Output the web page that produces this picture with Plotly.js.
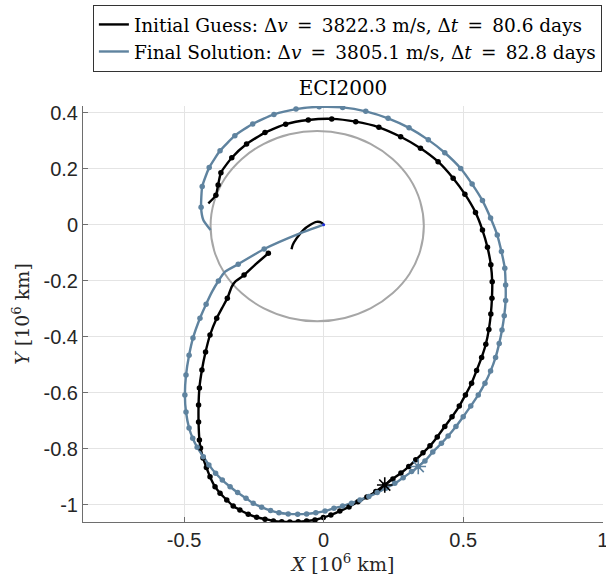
<!DOCTYPE html>
<html>
<head>
<meta charset="utf-8">
<script src="https://cdn.plot.ly/plotly-3.0.1.min.js"></script>
<style>html,body{margin:0;padding:0;background:#fff;}#chart{width:606px;height:581px;}</style>
</head>
<body>
<div id="chart"></div>
<script>
// ---- Data (10^6 km) ----
var xTickVals = [-0.5, 0, 0.5, 1];
var xTickText = ['-0.5', '0', '0.5', '1'];
var yTickVals = [0.4, 0.2, 0, -0.2, -0.4, -0.6, -0.8, -1];
var yTickText = ['0.4', '0.2', '0', '-0.2', '-0.4', '-0.6', '-0.8', '-1'];

var legendInitial = 'Initial Guess: Δ<i>v</i>\u2002=\u20023822.3 m/s, Δ<i>t</i>\u2002=\u200280.6 days';
var legendFinal = 'Final Solution: Δ<i>v</i>\u2002=\u20023805.1 m/s, Δ<i>t</i>\u2002=\u200282.8 days';

// Moon orbit (gray)
var moonX = [0.359, 0.346, 0.308, 0.247, 0.168, 0.076, -0.023, -0.122, -0.214, -0.293, -0.354, -0.392, -0.405,
             -0.392, -0.354, -0.293, -0.214, -0.122, -0.023, 0.076, 0.168, 0.247, 0.308, 0.346, 0.359];
var moonY = [-0.005, 0.083, 0.165, 0.235, 0.289, 0.323, 0.335, 0.323, 0.289, 0.235, 0.165, 0.083, -0.005,
             -0.093, -0.175, -0.245, -0.299, -0.333, -0.345, -0.333, -0.299, -0.245, -0.175, -0.093, -0.005];

// Final solution trajectory (blue)
var finalX = [0, -0.085, -0.213, -0.306, -0.353, -0.377, -0.400, -0.421, -0.443, -0.468, -0.482, -0.493, -0.497,
  -0.493, -0.482, -0.469, -0.453, -0.431, -0.411, -0.387, -0.363, -0.335, -0.308, -0.278, -0.252, -0.222, -0.190,
  -0.160, -0.127, -0.093, -0.061, -0.028, 0.005, 0.037, 0.068, 0.100, 0.130, 0.162, 0.192, 0.223, 0.255, 0.285,
  0.315, 0.339, 0.363, 0.391, 0.422, 0.446, 0.474, 0.500, 0.527, 0.554, 0.578, 0.598, 0.616, 0.629, 0.639, 0.647,
  0.652, 0.652, 0.649, 0.637, 0.622, 0.598, 0.569, 0.532, 0.491, 0.434, 0.375, 0.306, 0.231, 0.151, 0.068, -0.016,
  -0.099, -0.178, -0.254, -0.318, -0.371, -0.410, -0.435, -0.439, -0.431, -0.405];
var finalY = [0, -0.031, -0.087, -0.141, -0.168, -0.201, -0.240, -0.284, -0.334, -0.405, -0.466, -0.537, -0.608,
  -0.669, -0.726, -0.763, -0.795, -0.829, -0.858, -0.888, -0.912, -0.936, -0.957, -0.977, -0.995, -1.009, -1.021,
  -1.029, -1.033, -1.034, -1.033, -1.029, -1.023, -1.013, -1.005, -0.995, -0.983, -0.971, -0.957, -0.941, -0.924, -0.904,
  -0.882, -0.864, -0.844, -0.812, -0.781, -0.755, -0.721, -0.686, -0.648, -0.608, -0.566, -0.523, -0.474, -0.424, -0.376, -0.325,
  -0.271, -0.215, -0.156, -0.096, -0.037, 0.024, 0.086, 0.145, 0.201, 0.257, 0.303, 0.346, 0.380, 0.405, 0.419, 0.421,
  0.413, 0.394, 0.360, 0.318, 0.264, 0.204, 0.136, 0.062, 0.017, -0.019];
var finalNoNode = [0, 1, 4, 6, 82, 83];          // path vertices without a node dot
var finalStar = {x: [0.339], y: [-0.864]};

// Initial guess trajectory (black), two legs separated by null
var initX = [0, -0.007, -0.025, -0.049, -0.073, -0.097, -0.111, -0.115, null,
  -0.198, -0.242, -0.285, -0.314, -0.329, -0.345, -0.364, -0.383, -0.407, -0.423, -0.436, -0.445, -0.448, -0.448,
  -0.445, -0.441, -0.432, -0.420, -0.407, -0.389, -0.371, -0.347, -0.324, -0.300, -0.270, -0.240, -0.210, -0.180,
  -0.150, -0.121, -0.091, -0.061, -0.031, -0.001, 0.026, 0.058, 0.091, 0.123, 0.155, 0.187, 0.219, 0.248, 0.277,
  0.305, 0.330, 0.356, 0.381, 0.407, 0.434, 0.460, 0.486, 0.508, 0.530, 0.548, 0.566, 0.581, 0.592, 0.599, 0.603,
  0.604, 0.599, 0.587, 0.569, 0.544, 0.506, 0.464, 0.410, 0.347, 0.276, 0.198, 0.115, 0.029, -0.055, -0.136, -0.210,
  -0.276, -0.329, -0.368, -0.378, -0.386, -0.413];
var initY = [0, 0.007, 0.010, -0.001, -0.019, -0.049, -0.073, -0.088, null,
  -0.102, -0.140, -0.180, -0.201, -0.221, -0.263, -0.298, -0.334, -0.394, -0.455, -0.519, -0.583, -0.644, -0.705,
  -0.769, -0.798, -0.833, -0.867, -0.900, -0.936, -0.959, -0.983, -1.005, -1.019, -1.034, -1.045, -1.052, -1.058,
  -1.061, -1.062, -1.061, -1.058, -1.055, -1.046, -1.037, -1.023, -1.008, -0.990, -0.973, -0.953, -0.930, -0.908, -0.887,
  -0.864, -0.840, -0.815, -0.790, -0.758, -0.721, -0.686, -0.648, -0.608, -0.566, -0.521, -0.474, -0.427, -0.374, -0.319, -0.263,
  -0.204, -0.143, -0.081, -0.019, 0.044, 0.109, 0.166, 0.225, 0.273, 0.314, 0.348, 0.368, 0.378, 0.374, 0.359, 0.329,
  0.288, 0.239, 0.186, 0.142, 0.105, 0.076];
var initNoNode = [0, 1, 2, 3, 4, 5, 6, 7, 8, 10, 12, 13, 15, 89];
var initStar = {x: [0.219], y: [-0.930]};

var earth = {x: [0], y: [0]};

// ---- Build ----
function nodes(xs, ys, skip) {
  var ox = [], oy = [];
  for (var i = 0; i < xs.length; i++) {
    if (skip.indexOf(i) === -1 && xs[i] !== null) { ox.push(xs[i]); oy.push(ys[i]); }
  }
  return {x: ox, y: oy};
}
var BLUE = '#5f839f';
var SERIF = 'DejaVu Serif, Liberation Serif, serif';
var finalNodes = nodes(finalX, finalY, finalNoNode);
var initNodes = nodes(initX, initY, initNoNode);

var traces = [
  {x: moonX, y: moonY, mode: 'lines', line: {color: '#a6a6a6', width: 2, shape: 'spline'}, showlegend: false, hoverinfo: 'skip'},
  {x: initX, y: initY, mode: 'lines', name: legendInitial, line: {color: '#000000', width: 2.4, shape: 'spline', smoothing: 0.5}, connectgaps: false},
  {x: finalX, y: finalY, mode: 'lines', name: legendFinal, line: {color: BLUE, width: 2.4, shape: 'spline', smoothing: 0.5}},
  {x: initNodes.x, y: initNodes.y, mode: 'markers', marker: {color: '#000000', size: 5.5}, showlegend: false},
  {x: finalNodes.x, y: finalNodes.y, mode: 'markers', marker: {color: BLUE, size: 5.5}, showlegend: false},
  {x: initStar.x, y: initStar.y, mode: 'markers', marker: {symbol: 'asterisk-open', size: 13, color: '#000000', line: {color: '#000000', width: 1.6}}, showlegend: false},
  {x: finalStar.x, y: finalStar.y, mode: 'markers', marker: {symbol: 'asterisk-open', size: 13, color: BLUE, line: {color: BLUE, width: 1.6}}, showlegend: false},
  {x: earth.x, y: earth.y, mode: 'markers', marker: {color: '#2030e0', size: 3}, showlegend: false}
];

var axisCommon = {
  showline: true, linecolor: '#6e6e6e', linewidth: 1, mirror: false,
  ticks: 'inside', ticklen: 5, tickcolor: '#6e6e6e', tickwidth: 1,
  showgrid: true, gridcolor: '#e4e4e4', gridwidth: 1, zeroline: false,
  tickfont: {family: 'Liberation Sans, Arial, sans-serif', size: 20, color: '#262626'},
  ticklabeloverflow: 'allow',
  automargin: false, fixedrange: true
};

var layout = {
  width: 606, height: 581,
  margin: {l: 83, r: 3, t: 106, b: 59, pad: 0},
  paper_bgcolor: '#ffffff', plot_bgcolor: '#ffffff',
  title: {text: 'ECI2000', font: {family: SERIF, size: 20, color: '#000'},
          xref: 'paper', x: 0.5, xanchor: 'center', yref: 'container', y: 1 - 88/581, yanchor: 'middle'},
  xaxis: Object.assign({}, axisCommon, {
    range: [-0.862, 1.0008], tickmode: 'array', tickvals: xTickVals, ticktext: xTickText,
    title: {text: '<i>X</i> [10<sup>6</sup> km]', standoff: 6, font: {family: SERIF, size: 19, color: '#262626'}}
  }),
  yaxis: Object.assign({}, axisCommon, {
    range: [-1.062, 0.424], tickmode: 'array', tickvals: yTickVals, ticktext: yTickText,
    title: {text: '<i>Y</i> [10<sup>6</sup> km]', standoff: 8, font: {family: SERIF, size: 19, color: '#262626'}}
  }),
  legend: {
    x: 0.019, y: 1.243, xanchor: 'left', yanchor: 'top', xref: 'paper', yref: 'paper',
    bgcolor: '#ffffff', bordercolor: '#333333', borderwidth: 1,
    font: {family: SERIF, size: 18.5, color: '#000'},
    tracegroupgap: 0, itemwidth: 30
  },
  showlegend: true
};

Plotly.newPlot('chart', traces, layout, {staticPlot: true, displayModeBar: false});
</script>
</body>
</html>
